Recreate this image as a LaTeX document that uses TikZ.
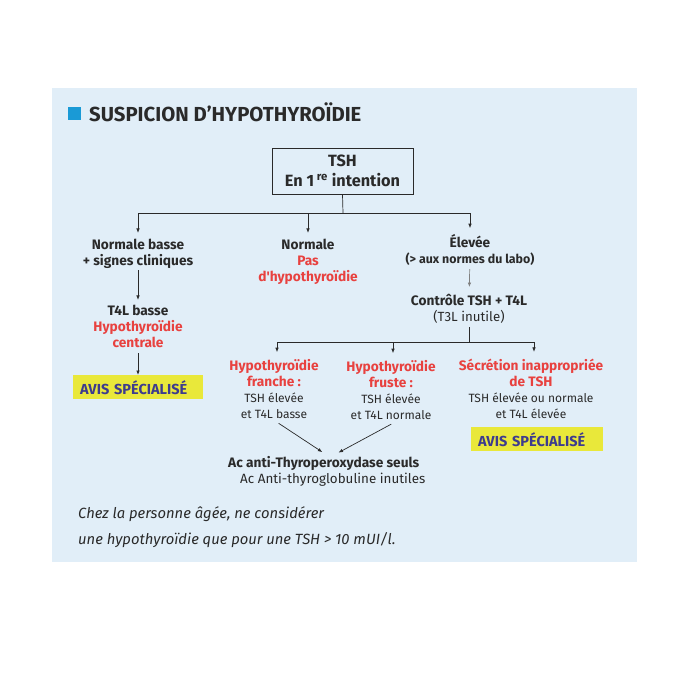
\documentclass[tikz,border=0pt]{standalone}
\usepackage{fontspec}
\setmainfont{Fira Sans}
\usetikzlibrary{arrows.meta,positioning}
\definecolor{bgblue}{HTML}{E1EEF8}
\definecolor{titleblue}{HTML}{1A9AD6}
\definecolor{alertred}{HTML}{E8413F}
\definecolor{avisyellow}{HTML}{E9E83A}
\definecolor{avisblue}{HTML}{3D3B8E}
\definecolor{inkgray}{HTML}{2A2A2A}
\newcommand{\Red}[1]{\textcolor{alertred}{#1}}
\newcommand{\Reg}[2][12]{{\mdseries\fontsize{#1}{15}\selectfont #2}}
\newcommand{\strutA}{\rule[-4pt]{0pt}{16.5pt}}
\tikzset{
  arr/.style={-{Latex[length=4.5pt,width=3.5pt]},line width=0.7pt,draw=inkgray},
  conn/.style={line width=0.7pt,draw=inkgray},
  lbl/.style={align=center,inner sep=0pt,anchor=base,text=inkgray,font=\fontsize{13.7}{16}\selectfont\bfseries,
    execute at begin node=\strutA,execute at end node=\strutA},
  avisbox/.style={fill=avisyellow,text=avisblue,anchor=north west,inner sep=0pt,
    minimum height=24pt,text width=#1,align=left,font=\fontsize{14.5}{16}\selectfont\bfseries},
}
\begin{document}
\begin{tikzpicture}[x=1pt,y=-1pt]
\useasboundingbox (0,0) rectangle (677,689);
\fill[bgblue] (52,88) rectangle (637,562);
% title
\node (mark) [fill=titleblue,minimum size=13pt,inner sep=0pt,anchor=north west] at (68,107) {};
\node (title) [anchor=base west,inner sep=0pt,text=inkgray,font=\fontsize{20.3}{24}\selectfont\bfseries] at (89,121) {SUSPICION D’HYPOTHYROÏDIE};
%
\node (tsh) [draw=inkgray,line width=0.8pt,minimum width=141pt,minimum height=46pt,inner sep=0pt,align=center,text=inkgray,font=\fontsize{16.3}{20.5}\selectfont\bfseries] at (342.5,171) {TSH\\En 1\,\textsuperscript{re} intention};
%
\node (nb) [lbl] at (138,265) {Normale basse\\+ signes cliniques};
\node (nor) [lbl] at (308,281) {Normale\\\Red{Pas}\\\Red{d\textquotesingle hypothyroïdie}};
\node (elev) [lbl] at (470,263) {Élevée\\{\fontsize{12.4}{14}\selectfont (> aux normes du labo)}};
\node (t4l) [lbl] at (138,347) {T4L basse\\\Red{Hypothyroïdie}\\\Red{centrale}};
\node (avis1) [avisbox=130pt] at (73,375) {\hspace*{7pt}AVIS SPÉCIALISÉ};
\node (ctrl) [lbl] at (469,321) {Contrôle TSH + T4L\\\Reg[13.3]{(T3L inutile)}};
%
\node (franche) [lbl] at (274,418) {\Red{Hypothyroïdie}\\\Red{franche :}\\\Reg{TSH élevée}\\\Reg{et T4L basse}};
\node (fruste) [lbl] at (391,419) {\Red{Hypothyroïdie}\\\Red{fruste :}\\\Reg{TSH élevée}\\\Reg{et T4L normale}};
\node (secr) [lbl] at (531,418) {\Red{Sécrétion inappropriée}\\\Red{de TSH}\\\Reg{TSH élevée ou normale}\\\Reg{et T4L élevée}};
\node (avis2) [avisbox=132pt] at (471,427) {\hspace*{7pt}AVIS SPÉCIALISÉ};
%
\node (anti) [lbl,align=left,anchor=base west] at (228,483) {Ac anti-Thyroperoxydase seuls\\\hspace*{12pt}\Reg[13.4]{Ac Anti-thyroglobuline inutiles}};
\node (note) [anchor=base west,align=left,inner sep=0pt,text=inkgray,font=\fontsize{14.8}{26}\selectfont\itshape] at (78,544) {Chez la personne âgée, ne considérer\\une hypothyroïdie que pour une TSH > 10 mUI/l.};
%
\coordinate (split) at (343,213);
\coordinate (split2) at (469,342);
\draw[conn] (tsh.south) -- (split);
\draw[conn] (nb.north |- split) -- (elev.north |- split);
\draw[arr,shorten >=5.5pt] (nb.north |- split) -- (nb.north);
\draw[arr,shorten >=5.5pt] (nor.north |- split) -- (nor.north);
\draw[arr,shorten >=5.5pt] (elev.north |- split) -- (elev.north);
\draw[arr,shorten <=1pt,shorten >=4.5pt] (nb) -- (t4l);
\draw[arr,shorten <=2pt] (t4l) -- (avis1.north -| t4l);
\draw[arr,draw=gray,shorten <=2pt,shorten >=6.5pt] (elev) -- (ctrl);
\draw[conn,shorten <=2pt] (ctrl) -- (split2);
\draw[conn] ([xshift=3pt]franche.north |- split2) -- ([xshift=3pt]secr.north |- split2);
\draw[arr,shorten >=6.5pt] ([xshift=3pt]franche.north |- split2) -- ([xshift=3pt]franche.north);
\draw[arr,shorten >=6.5pt] ([xshift=2pt]fruste.north |- split2) -- ([xshift=2pt]fruste.north);
\draw[arr,shorten >=6.5pt] ([xshift=3pt]secr.north |- split2) -- ([xshift=3pt]secr.north);
\draw[arr,shorten <=2pt,shorten >=6.5pt] ([xshift=3pt]franche.south) -- ([xshift=1pt]anti.north);
\draw[arr,shorten <=2pt,shorten >=6.5pt] ([xshift=2pt]fruste.south) -- ([xshift=6pt]anti.north);
\end{tikzpicture}
\end{document}
